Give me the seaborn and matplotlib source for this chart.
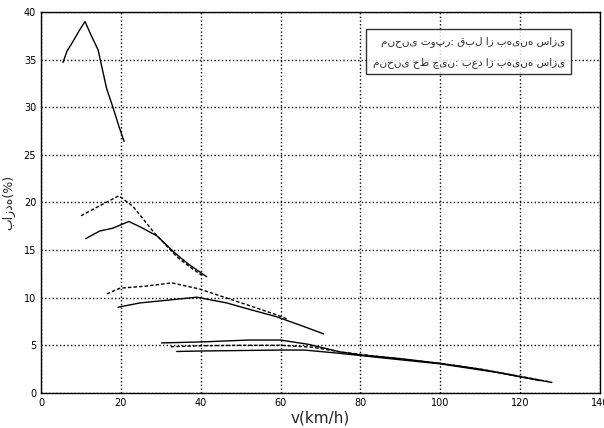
import matplotlib.pyplot as plt
import numpy as np
import pandas as pd
import seaborn as sns

sns.set_style("white")
plt.rcParams["font.family"] = ["DejaVu Sans"]

# curves: speed (km/h) vs efficiency (%)
v_s1 = [5.5, 6.5, 7.7, 9.5, 11, 12.5, 14.3, 16.4, 18, 19.5, 20.8]
e_s1 = [34.7, 35.9, 36.7, 38.0, 39.0, 37.6, 36.0, 32.0, 30.0, 28.0, 26.4]

v_d1 = [10, 14, 19.5, 23, 28, 34, 38, 40.5]
e_d1 = [18.6, 19.5, 20.7, 19.6, 17.0, 14.3, 13.0, 12.3]

v_s2 = [11.2, 14.7, 18, 22, 25, 29, 33.5, 37, 41.5]
e_s2 = [16.2, 17.0, 17.3, 18.0, 17.4, 16.5, 14.7, 13.5, 12.2]

v_d2 = [16.5, 19.8, 26, 32.8, 39.8, 45.5, 52, 59, 62]
e_d2 = [10.4, 11.0, 11.2, 11.55, 10.9, 10.1, 9.2, 8.2, 7.7]

v_s3 = [19.3, 24.8, 32, 39, 46.5, 52, 59, 65, 70.8]
e_s3 = [9.0, 9.45, 9.75, 10.05, 9.45, 8.8, 8.0, 7.1, 6.2]

v_s4 = [30.2, 40, 52, 60, 67, 75, 80, 90, 100, 110, 120, 128]
e_s4 = [5.25, 5.35, 5.55, 5.55, 5.1, 4.3, 4.0, 3.6, 3.1, 2.5, 1.7, 1.1]

v_d4 = [32.5, 40, 50, 60, 68, 75, 85, 100, 110, 120, 127]
e_d4 = [4.85, 4.95, 5.0, 5.0, 4.8, 4.3, 3.8, 3.1, 2.5, 1.75, 1.2]

v_s5 = [34, 40, 50, 60, 66, 75, 85, 100, 115, 125]
e_s5 = [4.35, 4.4, 4.45, 4.5, 4.5, 4.15, 3.7, 3.05, 2.1, 1.3]

curves = [
    (v_s1, e_s1, "-"), (v_d1, e_d1, "--"), (v_s2, e_s2, "-"),
    (v_d2, e_d2, "--"), (v_s3, e_s3, "-"), (v_s4, e_s4, "-"),
    (v_d4, e_d4, "--"), (v_s5, e_s5, "-"),
]

legend_lines = [
    "منحنی توپر: قبل از بهینه سازی",
    "منحنی خط چین: بعد از بهینه سازی",
]

fig = plt.figure(figsize=(6.04, 4.28), dpi=100)
ax = fig.add_axes([0.068, 0.082, 0.925, 0.89])

for v, e, ls in curves:
    df = pd.DataFrame({"v": v, "eff": e})
    sns.lineplot(data=df, x="v", y="eff", ax=ax, color="black",
                 linewidth=1.0, linestyle=ls)
    if ls == "--":
        ax.lines[-1].set_dashes([2.5, 1.5])

ax.set_xlim(0, 140)
ax.set_ylim(0, 40)
ax.set_xticks(np.arange(0, 141, 20))
ax.set_yticks(np.arange(0, 41, 5))
ax.grid(True, color="black", linestyle=":", linewidth=1.0)
ax.tick_params(direction="in", labelsize=7, length=3, colors="black")
for s in ax.spines.values():
    s.set_color("black")
    s.set_linewidth(1.0)

ax.set_xlabel("v(km/h)", fontsize=11, labelpad=2)
ax.set_ylabel("بازده(%)", fontsize=9, labelpad=6)

handles = [plt.Line2D([], [], linestyle="none") for _ in legend_lines]
leg = ax.legend(handles, legend_lines, loc="upper right",
                bbox_to_anchor=(0.958, 0.968), handlelength=0,
                handletextpad=0, frameon=True, fancybox=False,
                borderpad=0.6, labelspacing=1.0, markerfirst=False,
                prop={"size": 7.5})
leg.get_frame().set_edgecolor("black")
leg.get_frame().set_linewidth(1.0)

plt.savefig("out.png", dpi=100)
